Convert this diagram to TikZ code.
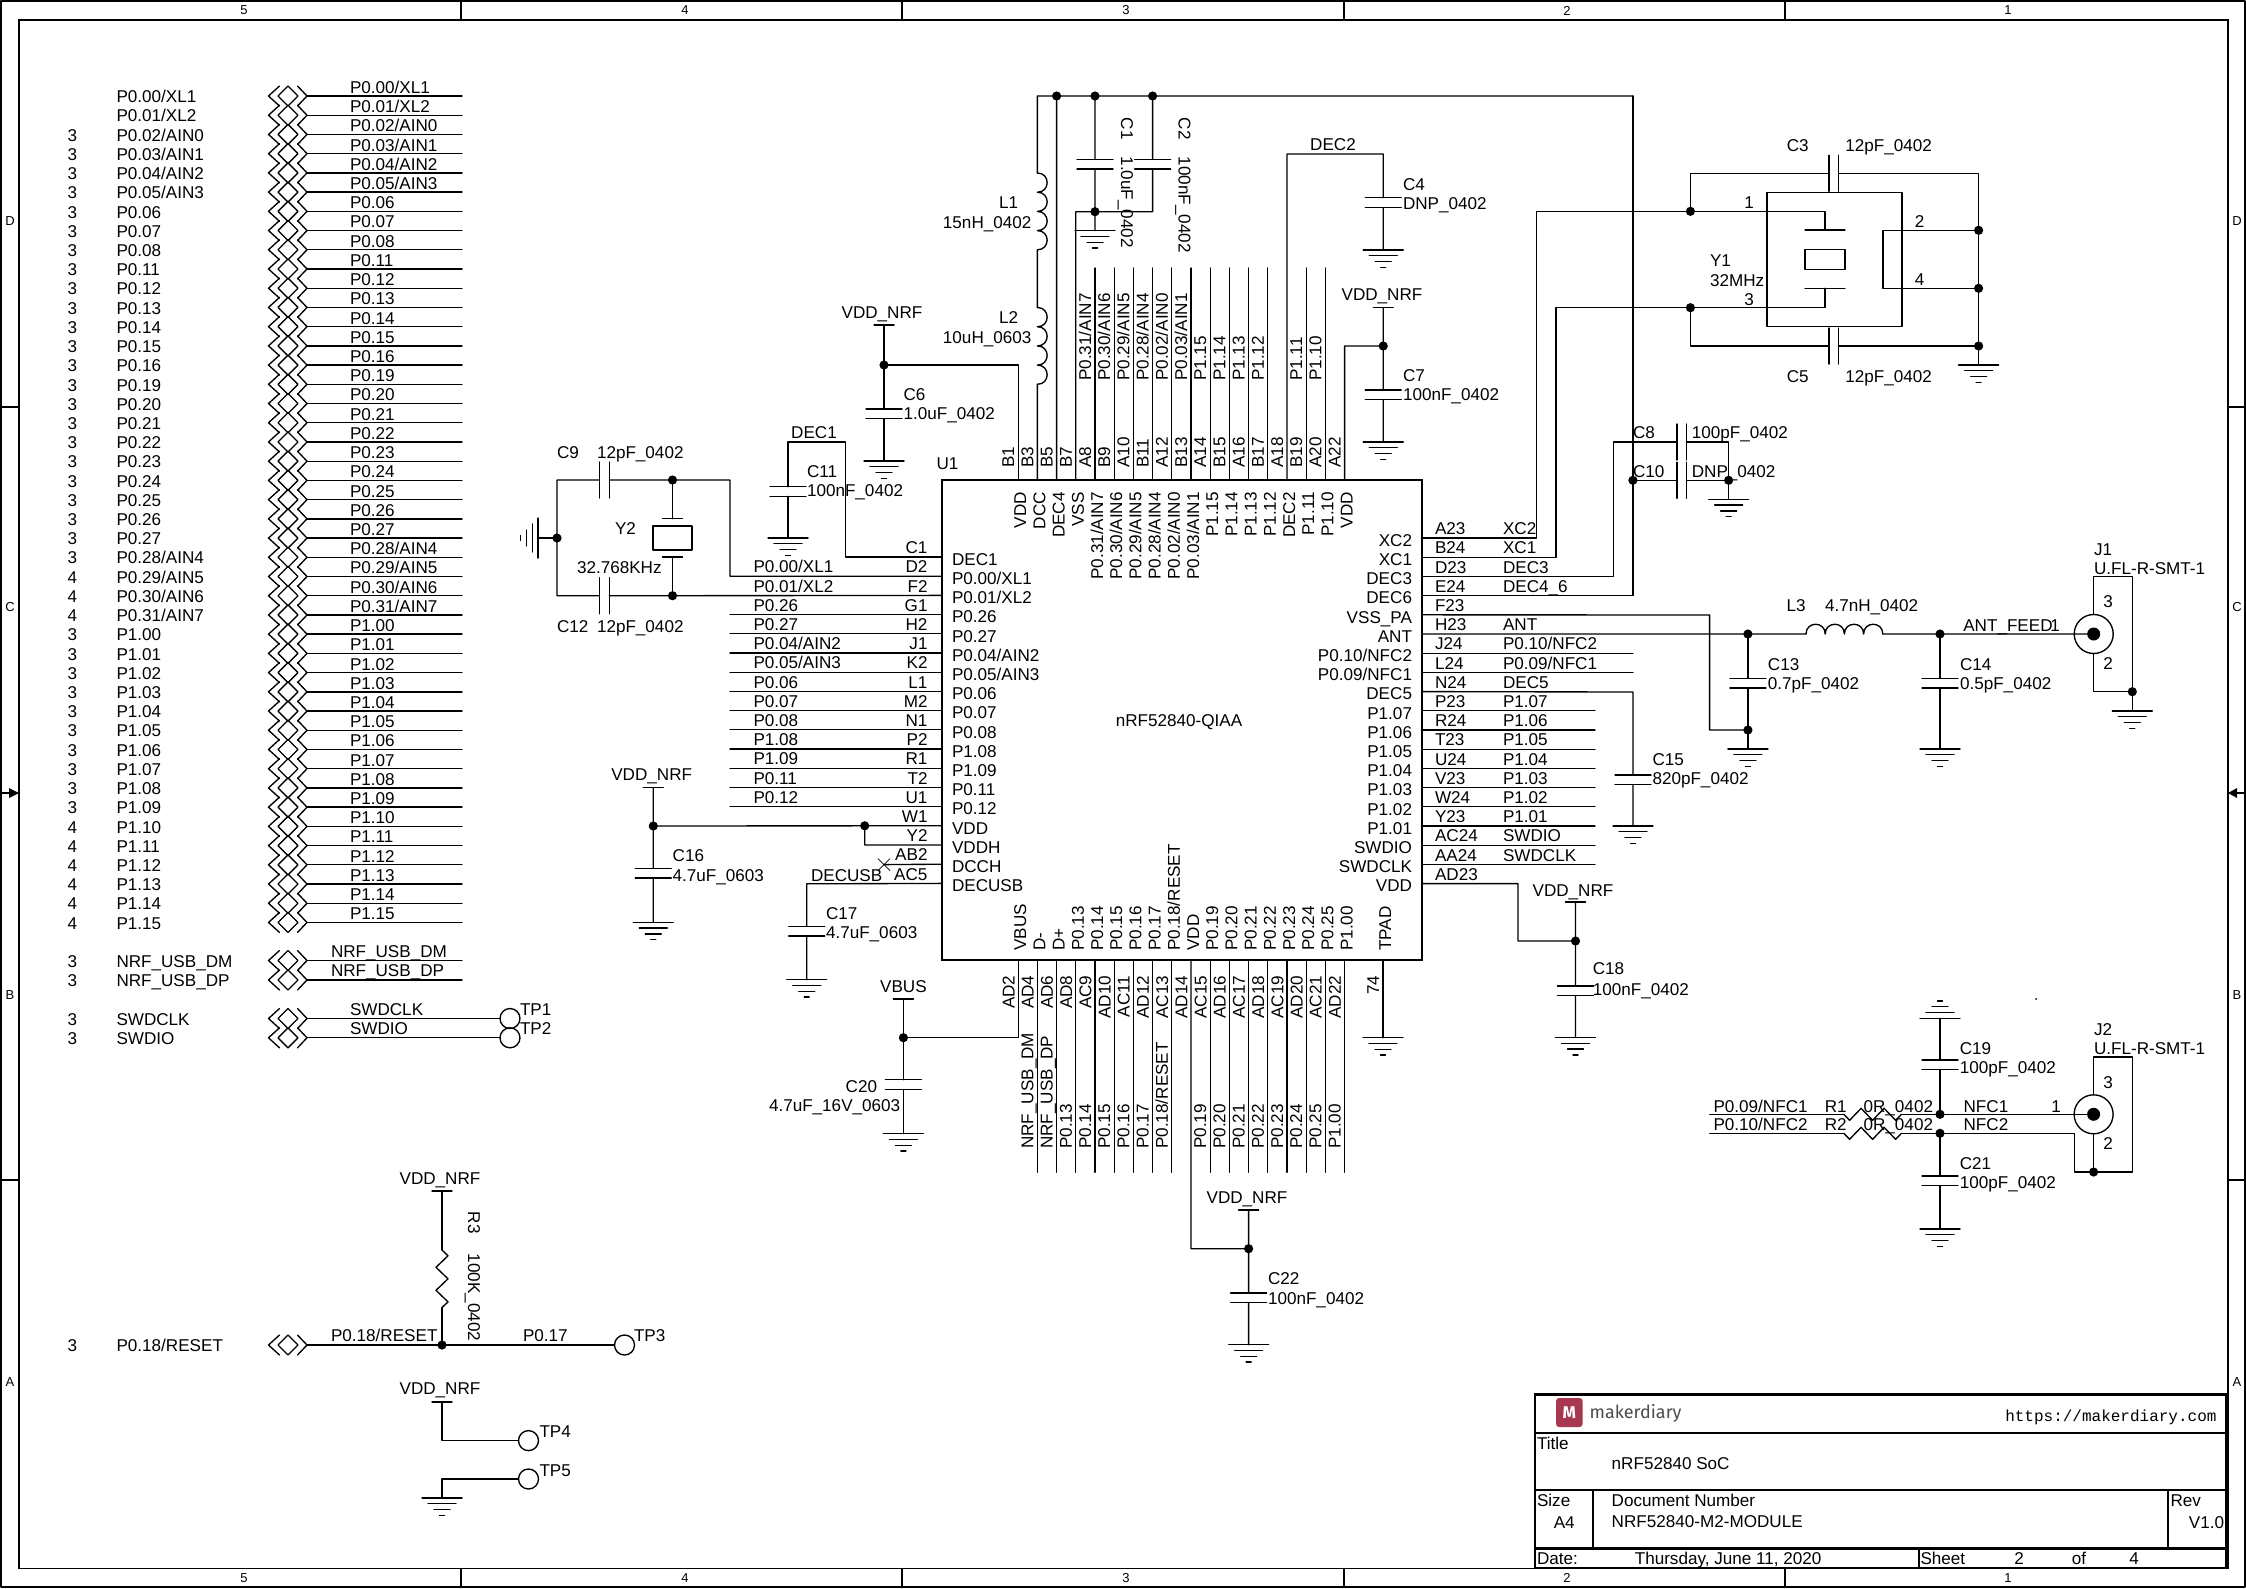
\documentclass[tikz,border=0pt]{standalone}
\usepackage{fontspec}
\setmainfont{Liberation Sans}
\newfontfamily\monof{Liberation Mono}
\newfontfamily\logof{Fira Sans}
\newcounter{lblno}
\tikzset{
  wire/.style={line width=1.35pt,line cap=round,line join=round},
  thickbox/.style={line width=2.4pt},
  lbl/.style={inner sep=0pt,outer sep=0pt,text height=12pt,text depth=0pt,yshift=-0.7pt,font=\fontsize{17.1}{17}\selectfont},
  small/.style={inner sep=0pt,outer sep=0pt,font=\fontsize{13}{13}\selectfont},
  tp/.style={circle,draw,line width=1.35pt,minimum size=20pt,inner sep=0pt,outer sep=0pt},
  coax/.style={circle,draw,line width=1.35pt,minimum size=39pt,inner sep=0pt,outer sep=0pt},
  dot/.style={fill=black}
}
\newcommand\tl[3]{\stepcounter{lblno}\node[lbl,anchor=west] (t\arabic{lblno}) at (#1,#2) {#3};}
\newcommand\tc[3]{\stepcounter{lblno}\node[lbl,anchor=center] (t\arabic{lblno}) at (#1,#2) {#3};}
\newcommand\tr[3]{\stepcounter{lblno}\node[lbl,anchor=east] (t\arabic{lblno}) at (#1,#2) {#3};}
\newcommand\rotw[3]{\stepcounter{lblno}\node[lbl,rotate=90,anchor=west] (t\arabic{lblno}) at (#1,#2) {#3};}
\newcommand\rote[3]{\stepcounter{lblno}\node[lbl,rotate=90,anchor=east] (t\arabic{lblno}) at (#1,#2) {#3};}
\newcommand\rotd[3]{\stepcounter{lblno}\node[lbl,rotate=-90,anchor=west] (t\arabic{lblno}) at (#1,#2) {#3};}
\newcommand\bord[3]{\stepcounter{lblno}\node[small] (t\arabic{lblno}) at (#1,#2) {#3};}
\newcommand\gnd[3]{\coordinate (#1) at (#2,#3);
  \draw[wire] (#2-20,#3) -- (#2+20,#3) (#2-14,#3+5.8) -- (#2+14,#3+5.8) (#2-8,#3+11.6) -- (#2+8,#3+11.6) (#2-2.5,#3+17.4) -- (#2+2.5,#3+17.4);}
\newcommand\gndup[3]{\coordinate (#1) at (#2,#3);
  \draw[wire] (#2-20,#3) -- (#2+20,#3) (#2-14,#3-5.8) -- (#2+14,#3-5.8) (#2-8,#3-11.6) -- (#2+8,#3-11.6) (#2-2.5,#3-17.4) -- (#2+2.5,#3-17.4);}
\newcommand\gndleft[3]{\coordinate (#1) at (#2,#3);
  \draw[wire] (#2,#3-20) -- (#2,#3+20) (#2-5.8,#3-14) -- (#2-5.8,#3+14) (#2-11.6,#3-8) -- (#2-11.6,#3+8) (#2-17.4,#3-2.5) -- (#2-17.4,#3+2.5);}
\newcommand\pwr[3]{\coordinate (#1) at (#2,#3); \draw[wire] (#2-10,#3) -- (#2+10,#3);}
\newcommand\jn[3]{\coordinate (#1) at (#2,#3); \fill[dot] (#2,#3) circle[radius=4.6];}
\newcommand\capv[3]{\coordinate (#1) at (#2,#3); \coordinate (#1b) at (#2,#3+9.7);
  \draw[wire] (#2-18,#3) -- (#2+18,#3) (#2-18,#3+9.7) -- (#2+18,#3+9.7);}
\newcommand\caph[3]{\coordinate (#1) at (#2,#3); \coordinate (#1b) at (#2+9.7,#3);
  \draw[wire] (#2,#3-18) -- (#2,#3+18) (#2+9.7,#3-18) -- (#2+9.7,#3+18);}
\newcommand\indv[3]{\coordinate (#1) at (#2,#3); \coordinate (#1b) at (#2,#3+76.8);
  \draw[wire] (#2,#3) .. controls (#2+13,#3) and (#2+13,#3+19.2) .. (#2,#3+19.2)
   .. controls (#2+13,#3+19.2) and (#2+13,#3+38.4) .. (#2,#3+38.4)
   .. controls (#2+13,#3+38.4) and (#2+13,#3+57.6) .. (#2,#3+57.6)
   .. controls (#2+13,#3+57.6) and (#2+13,#3+76.8) .. (#2,#3+76.8);}
\newcommand\indh[3]{\coordinate (#1) at (#2,#3); \coordinate (#1b) at (#2+76.8,#3);
  \draw[wire] (#2,#3) .. controls (#2,#3-13) and (#2+19.2,#3-13) .. (#2+19.2,#3)
   .. controls (#2+19.2,#3-13) and (#2+38.4,#3-13) .. (#2+38.4,#3)
   .. controls (#2+38.4,#3-13) and (#2+57.6,#3-13) .. (#2+57.6,#3)
   .. controls (#2+57.6,#3-13) and (#2+76.8,#3-13) .. (#2+76.8,#3);}
\newcommand\resh[3]{\coordinate (#1) at (#2,#3); \coordinate (#1b) at (#2+57.6,#3);
  \draw[wire] (#2,#3) -- (#2+5.76,#3+6) -- (#2+17.3,#3-6) -- (#2+28.8,#3+6) -- (#2+40.3,#3-6) -- (#2+51.84,#3+6) -- (#2+57.6,#3);}
\newcommand\resv[3]{\coordinate (#1) at (#2,#3); \coordinate (#1b) at (#2,#3+57.6);
  \draw[wire] (#2,#3) -- (#2+6,#3+5.76) -- (#2-6,#3+17.3) -- (#2+6,#3+28.8) -- (#2-6,#3+40.3) -- (#2+6,#3+51.84) -- (#2,#3+57.6);}
\newcommand\offp[2]{\coordinate (#1) at (307,#2);
  \draw[wire] (279.5,#2-10) -- (268.5,#2) -- (279.5,#2+10)
     (297.5,#2-10) -- (307,#2) -- (297.5,#2+10)
     (288,#2-10) -- (298,#2) -- (288,#2+10) -- (278,#2) -- cycle;}
\begin{document}
\begin{tikzpicture}[x=1pt,y=-1pt]
\useasboundingbox (0,0) rectangle (2246,1588);
\fill[white] (0,0) rectangle (2246,1588);
% ---- sheet frame
\draw[wire] (1,1) rectangle (2245,1587);
\draw[line width=1.6pt] (19,20) rectangle (2228,1568.5);
\foreach \xx in {461,902,1344,1785}{\draw[line width=1.6pt] (\xx,1) -- (\xx,20) (\xx,1568.5) -- (\xx,1587);}
\foreach \yy in {407,1180}{\draw[wire] (1,\yy) -- (19,\yy) (2228,\yy) -- (2245,\yy);}
\draw[wire] (1,793) -- (10,793) (2236,793) -- (2245,793);
\fill (19,793) -- (9,788) -- (9,798) -- cycle;
\fill (2228,793) -- (2237,788) -- (2237,798) -- cycle;
\foreach \xx/\ss in {244/5,685/4,1126/3,1567/2,2008/1}{\bord{\xx}{10.5}{\ss}\bord{\xx}{1578}{\ss}}
\foreach \yy/\ss in {221/D,607/C,995/B,1382/A}{\bord{10}{\yy}{\ss}\bord{2237}{\yy}{\ss}}
% ---- left signal list
\foreach \nm [count=\i from 0] in {P0.00/XL1,P0.01/XL2,P0.02/AIN0,P0.03/AIN1,P0.04/AIN2,P0.05/AIN3,P0.06,P0.07,P0.08,P0.11,P0.12,P0.13,P0.14,P0.15,P0.16,P0.19,P0.20,P0.21,P0.22,P0.23,P0.24,P0.25,P0.26,P0.27,P0.28/AIN4,P0.29/AIN5,P0.30/AIN6,P0.31/AIN7,P1.00,P1.01,P1.02,P1.03,P1.04,P1.05,P1.06,P1.07,P1.08,P1.09,P1.10,P1.11,P1.12,P1.13,P1.14,P1.15}{
  \pgfmathsetmacro\yy{96+\i*19.22}
  \pgfmathsetmacro\yl{\yy-9.3}
  \tl{116.5}{\yy}{\nm}
  \tl{350}{\yl}{\nm}
  \offp{oc\i}{\yy}
  \coordinate (oe\i) at (462,\yy);
  \draw[wire] (oc\i) -- (oe\i);
}
\foreach \ss [count=\i from 2] in {3,3,3,3,3,3,3,3,3,3,3,3,3,3,3,3,3,3,3,3,3,3,3,4,4,4,3,3,3,3,3,3,3,3,3,3,4,4,4,4,4,4}{
  \pgfmathsetmacro\yy{96+\i*19.22}
  \tc{72.5}{\yy}{\ss}
}
% ---- USB, SWD
\offp{ocDM}{960.5} \offp{ocDP}{980} \offp{ocCK}{1018.5} \offp{ocIO}{1037.8} \offp{ocRS}{1345}
\tc{72.5}{960.5}{3} \tl{116.5}{960.5}{NRF\_USB\_DM}
\tc{72.5}{980}{3} \tl{116.5}{980}{NRF\_USB\_DP}
\tc{72.5}{1018.5}{3} \tl{116.5}{1018.5}{SWDCLK}
\tc{72.5}{1037.8}{3} \tl{116.5}{1037.8}{SWDIO}
\tc{72.5}{1345}{3} \tl{116.5}{1345}{P0.18/RESET}
\coordinate (oeDM) at (462,960.5); \coordinate (oeDP) at (462,980);
\draw[wire] (ocDM) -- (oeDM) (ocDP) -- (oeDP);
\tl{331}{951}{NRF\_USB\_DM} \tl{331}{970}{NRF\_USB\_DP}
\node[tp] (TP1) at (510,1018.5) {}; \node[tp] (TP2) at (510,1037.8) {};
\draw[wire] (ocCK) -- (TP1) (ocIO) -- (TP2);
\tl{350}{1009}{SWDCLK} \tl{350}{1028}{SWDIO}
\tl{520}{1009}{TP1} \tl{520}{1028}{TP2}
% ---- reset and test points
\jn{jRS}{442}{1345}
\pwr{pR3}{442}{1191} \tc{440}{1178}{VDD\_NRF}
\resv{R3}{442}{1250}
\node[tp] (TP3) at (624.5,1345) {};
\draw[wire] (pR3) -- (R3) (R3b) -- (jRS) (ocRS) -- (jRS) -- (TP3);
\rotd{474}{1211}{R3} \rotd{474}{1253}{100K\_0402}
\tl{331}{1335}{P0.18/RESET} \tl{523}{1335}{P0.17} \tl{634}{1335}{TP3}
\pwr{pTP4}{442}{1402} \tc{440}{1388}{VDD\_NRF}
\node[tp] (TP4) at (528.5,1440.6) {};
\draw[wire] (pTP4) |- (TP4);
\tl{539.5}{1431}{TP4}
\node[tp] (TP5) at (528.5,1479) {};
\gnd{gTP5}{442}{1498}
\draw[wire] (gTP5) |- (TP5);
\tl{539.5}{1469.5}{TP5}
% ---- U1
\node[draw,line width=1.35pt,minimum width=480pt,minimum height=480pt,inner sep=0pt,outer sep=0pt,anchor=north west] (U1) at (942,480) {};
\tc{1179}{720}{nRF52840-QIAA}
\tl{936.5}{463}{U1}
% left pins
\foreach \pn/\nm [count=\i from 0] in {C1/DEC1,D2/{P0.00/XL1},F2/{P0.01/XL2},G1/P0.26,H2/P0.27,J1/{P0.04/AIN2},K2/{P0.05/AIN3},L1/P0.06,M2/P0.07,N1/P0.08,P2/P1.08,R1/P1.09,T2/P0.11,U1/P0.12,W1/VDD,Y2/VDDH,AB2/DCCH,AC5/DECUSB}{
  \pgfmathsetmacro\yy{557+\i*19.2}
  \pgfmathsetmacro\yl{\yy-10}
  \pgfmathsetmacro\yn{\yy+1.5}
  \coordinate (pl\i) at (942,\yy);
  \tr{927.5}{\yl}{\pn}
  \tl{952}{\yn}{\nm}
}
\foreach \nm [count=\i from 1] in {P0.00/XL1,P0.01/XL2,P0.26,P0.27,P0.04/AIN2,P0.05/AIN3,P0.06,P0.07,P0.08,P1.08,P1.09,P0.11,P0.12}{
  \pgfmathsetmacro\yl{557+\i*19.2-10}
  \tl{753.5}{\yl}{\nm}
}
\foreach \i in {3,...,13}{
  \pgfmathsetmacro\yy{557+\i*19.2}
  \coordinate (ple\i) at (730,\yy);
  \draw[wire] (pl\i) -- (ple\i);
}
% right pins
\foreach \pn/\nm [count=\i from 0] in {A23/XC2,B24/XC1,D23/DEC3,E24/DEC6,F23/VSS\_PA,H23/ANT,J24/{P0.10/NFC2},L24/{P0.09/NFC1},N24/DEC5,P23/P1.07,R24/P1.06,T23/P1.05,U24/P1.04,V23/P1.03,W24/P1.02,Y23/P1.01,AC24/SWDIO,AA24/SWDCLK,AD23/VDD}{
  \pgfmathsetmacro\yy{538+\i*19.2}
  \pgfmathsetmacro\yl{\yy-10}
  \pgfmathsetmacro\yn{\yy+1.5}
  \coordinate (pr\i) at (1422,\yy);
  \tl{1435}{\yl}{\pn}
  \tr{1412}{\yn}{\nm}
}
\foreach \i/\nm in {0/XC2,1/XC1,2/DEC3,3/DEC4\_6,5/ANT,6/{P0.10/NFC2},7/{P0.09/NFC1},8/DEC5,9/P1.07,10/P1.06,11/P1.05,12/P1.04,13/P1.03,14/P1.02,15/P1.01,16/SWDIO,17/SWDCLK}{
  \pgfmathsetmacro\yl{538+\i*19.2-10}
  \tl{1503}{\yl}{\nm}
}
\foreach \i/\xe in {6/1633,7/1633,9/1595,10/1595,11/1595,12/1595,13/1595,14/1595,15/1595,16/1595,17/1595}{
  \pgfmathsetmacro\yy{538+\i*19.2}
  \coordinate (pre\i) at (\xe,\yy);
  \draw[wire] (pr\i) -- (pre\i);
}
% top pins
\foreach \pn/\nm [count=\i from 0] in {B1/VDD,B3/DCC,B5/DEC4,B7/VSS,A8/{P0.31/AIN7},B9/{P0.30/AIN6},A10/{P0.29/AIN5},B11/{P0.28/AIN4},A12/{P0.02/AIN0},B13/{P0.03/AIN1},A14/P1.15,B15/P1.14,A16/P1.13,B17/P1.12,A18/DEC2,B19/P1.11,A20/P1.10,A22/VDD}{
  \pgfmathsetmacro\xx{1018.2+\i*19.2}
  \pgfmathsetmacro\xl{\xx-10}
  \pgfmathsetmacro\xn{\xx+2}
  \coordinate (pt\i) at (\xx,480);
  \rotw{\xl}{467}{\pn}
  \rote{\xn}{491.5}{\nm}
}
\foreach \i/\nm in {4/{P0.31/AIN7},5/{P0.30/AIN6},6/{P0.29/AIN5},7/{P0.28/AIN4},8/{P0.02/AIN0},9/{P0.03/AIN1},10/P1.15,11/P1.14,12/P1.13,13/P1.12,15/P1.11,16/P1.10}{
  \pgfmathsetmacro\xx{1018.2+\i*19.2}
  \pgfmathsetmacro\xl{\xx-10}
  \coordinate (pte\i) at (\xx,268);
  \draw[wire] (pt\i) -- (pte\i);
  \rotw{\xl}{380}{\nm}
}
% bottom pins
\foreach \pn/\nm [count=\i from 0] in {AD2/VBUS,AD4/D-,AD6/D+,AD8/P0.13,AC9/P0.14,AD10/P0.15,AC11/P0.16,AD12/P0.17,AC13/{P0.18/RESET},AD14/VDD,AC15/P0.19,AD16/P0.20,AC17/P0.21,AD18/P0.22,AC19/P0.23,AD20/P0.24,AC21/P0.25,AD22/P1.00}{
  \pgfmathsetmacro\xx{1018.2+\i*19.2}
  \pgfmathsetmacro\xl{\xx-9.7}
  \pgfmathsetmacro\xn{\xx+2}
  \coordinate (pb\i) at (\xx,960);
  \rote{\xl}{975}{\pn}
  \rotw{\xn}{950}{\nm}
}
\coordinate (pb19) at (1383,960);
\rote{1373}{975}{74} \rotw{1385}{950}{TPAD}
\foreach \i/\nm in {1/NRF\_USB\_DM,2/NRF\_USB\_DP,3/P0.13,4/P0.14,5/P0.15,6/P0.16,7/P0.17,8/{P0.18/RESET},10/P0.19,11/P0.20,12/P0.21,13/P0.22,14/P0.23,15/P0.24,16/P0.25,17/P1.00}{
  \pgfmathsetmacro\xx{1018.2+\i*19.2}
  \pgfmathsetmacro\xl{\xx-10}
  \coordinate (pbe\i) at (\xx,1172.3);
  \draw[wire] (pb\i) -- (pbe\i);
  \rotw{\xl}{1148}{\nm}
}
% ---- Y2 group
\jn{jY2a}{672.5}{480} \jn{jY2b}{672.5}{595.7} \jn{jY2g}{557}{538}
\caph{C9}{599.5}{480} \caph{C12}{599.5}{595.7}
\coordinate (cXL1) at (730,480); \coordinate (cTL) at (557,480); \coordinate (cBL) at (557,595.7);
\coordinate (y2t) at (672.5,518.7); \coordinate (y2b) at (672.5,557);
\gndleft{gY2}{538}{538}
\draw[wire] (662.5,518.7) -- (682.5,518.7) (662.5,557) -- (682.5,557);
\draw[wire] (653,526) rectangle (692,550);
\draw[wire] (pl1) -| (cXL1) -- (jY2a) -- (C9b) (C9) -- (cTL) -- (cBL) -- (C12) (C12b) -- (jY2b) -- (pl2);
\draw[wire] (jY2a) -- (y2t) (y2b) -- (jY2b) (jY2g) -- (gY2);
\tl{557}{452}{C9} \tl{597}{452}{12pF\_0402}
\tl{557}{625.7}{C12} \tl{597}{625.7}{12pF\_0402}
\tl{615}{528}{Y2} \tl{577}{567}{32.768KHz}
% ---- DEC1
\capv{C11}{788}{486.7} \gnd{gC11}{788}{538}
\coordinate (d1r) at (845.7,442); \coordinate (d1l) at (788,442);
\draw[wire] (pl0) -| (d1r) -- (d1l) -- (C11) (C11b) -- (gC11);
\tc{814}{432}{DEC1} \tl{807}{471}{C11} \tl{807}{490}{100nF\_0402}
% ---- C6, L2, L1
\pwr{pC6}{884}{325} \jn{jC6}{884}{365} \capv{C6}{884}{409} \gnd{gC6}{884}{461}
\coordinate (b1t) at (1018.2,365);
\draw[wire] (pC6) -- (jC6) -- (C6) (C6b) -- (gC6) (jC6) -- (b1t) -- (pt0);
\tc{882}{312}{VDD\_NRF} \tl{903.6}{394}{C6} \tl{903.6}{413}{1.0uF\_0402}
\indv{L1}{1037.4}{173} \indv{L2}{1037.4}{307.5}
\coordinate (rl) at (1037.4,96); \coordinate (rr) at (1632.9,96);
\jn{jB5}{1056.6}{96} \jn{jC1}{1095}{96} \jn{jC2}{1152.6}{96}
\draw[wire] (pt1) -- (L2b) (L2) -- (L1b) (L1) -- (rl) -- (jB5) -- (jC1) -- (jC2) -- (rr) (jB5) -- (pt2);
\tl{999}{202}{L1} \tr{1031.4}{221.7}{15nH\_0402} \tl{999}{317}{L2} \tr{1031.4}{336.7}{10uH\_0603}
% ---- C1, C2
\capv{C1}{1095}{159.3} \capv{C2}{1152.6}{159.3}
\jn{jVSS}{1095}{211.7} \gnd{gC1}{1095}{230.7}
\coordinate (b7t) at (1075.8,211.7); \coordinate (c2b) at (1152.6,211.7);
\draw[wire] (jC1) -- (C1) (C1b) -- (jVSS) -- (gC1) (jC2) -- (C2) (C2b) -- (c2b) -- (jVSS) -- (b7t) -- (pt3);
\rotd{1127}{117}{C1} \rotd{1127}{156}{1.0uF\_0402} \rotd{1184.6}{117}{C2} \rotd{1184.6}{156}{100nF\_0402}
% ---- DEC2, C4, C7
\coordinate (d2l) at (1287,154); \coordinate (d2r) at (1383.2,154);
\capv{C4}{1383.2}{197.7} \gnd{gC4}{1383.2}{250}
\draw[wire] (pt14) -- (d2l) -- (d2r) -- (C4) (C4b) -- (gC4);
\tc{1333}{144}{DEC2} \tl{1403}{183.3}{C4} \tl{1403}{202.3}{DNP\_0402}
\pwr{pC7}{1383.2}{307.7} \jn{jC7}{1383.2}{346} \capv{C7}{1383.2}{390} \gnd{gC7}{1383.2}{442}
\coordinate (a22t) at (1344.6,346);
\draw[wire] (pC7) -- (jC7) -- (C7) (C7b) -- (gC7) (jC7) -- (a22t) -- (pt17);
\tc{1382}{294}{VDD\_NRF} \tl{1403}{375}{C7} \tl{1403}{394}{100nF\_0402}
% ---- Y1
\draw[wire] (1767,192.3) rectangle (1902,326.7);
\draw[wire] (1805,230) -- (1845,230) (1805,288.3) -- (1845,288.3);
\draw[wire] (1805,249.7) rectangle (1845,269.3);
\jn{jY1a}{1690.4}{211.3} \jn{jY1b}{1690.4}{307.7} \jn{jY2r}{1978.6}{230.3} \jn{jY4r}{1978.6}{288.3} \jn{jG}{1978.6}{346}
\caph{C3}{1829}{173.3} \caph{C5}{1829}{346} \gnd{gY1}{1978.6}{365}
\coordinate (xc2) at (1536.8,211.3); \coordinate (xc1) at (1556,307.7);
\coordinate (y1a) at (1825,211.3); \coordinate (y1at) at (1825,230);
\coordinate (y1b) at (1825,307.7); \coordinate (y1bt) at (1825,288.3);
\coordinate (c3l) at (1690.4,173.3); \coordinate (c3r) at (1978.6,173.3); \coordinate (c5l) at (1690.4,346);
\coordinate (y2i) at (1882.9,230.3); \coordinate (y4i) at (1882.9,288.3);
\draw[wire] (pr0) -- (pr0 -| xc2) -- (xc2) -- (jY1a) -- (y1a) -- (y1at);
\draw[wire] (pr1) -- (pr1 -| xc1) -- (xc1) -- (jY1b) -- (y1b) -- (y1bt);
\draw[wire] (jY1a) -- (c3l) -- (C3) (C3b) -- (c3r) -- (jY2r) -- (jY4r) -- (jG) -- (gY1);
\draw[wire] (jY1b) -- (c5l) -- (C5) (C5b) -- (jG);
\draw[wire] (jY2r) -- (y2i) -- (y4i) -- (jY4r);
\tc{1749}{202}{1} \tc{1749}{298.3}{3} \tc{1919.6}{221}{2} \tc{1919.6}{278.3}{4}
\tl{1786.8}{144.3}{C3} \tl{1845.4}{144.3}{12pF\_0402}
\tl{1786.8}{375.7}{C5} \tl{1845.4}{375.7}{12pF\_0402}
\tl{1710}{260}{Y1} \tl{1710}{279.3}{32MHz}
% ---- C8, C10
\caph{C8}{1677}{442} \caph{C10}{1677}{480.3}
\jn{jC10}{1632.9}{480.3} \jn{jC8}{1728.6}{480.3} \gnd{gC8}{1728.6}{499.3}
\coordinate (c8l) at (1613.6,442); \coordinate (c8r) at (1728.6,442);
\draw[wire] (pr2) -- (pr2 -| c8l) -- (c8l) -- (C8) (C8b) -- (c8r) -- (jC8) -- (gC8);
\draw[wire] (pr3) -- (pr3 -| rr) -- (rr);
\draw[wire] (jC10) -- (C10) (C10b) -- (jC8);
\tl{1633}{432}{C8} \tl{1691.8}{432}{100pF\_0402} \tl{1633}{471}{C10} \tl{1691.8}{471}{DNP\_0402}
% ---- antenna
\jn{jC13}{1747.9}{634} \jn{jC13g}{1747.9}{730} \jn{jC14}{1940}{634}
\capv{C13}{1747.9}{678.3} \capv{C14}{1940}{678.3}
\gnd{gC13}{1747.9}{749} \gnd{gC14}{1940}{749}
\indh{L3}{1806}{634}
\node[coax] (J1) at (2093.7,634) {};
\fill[dot] (2093.7,634) circle[radius=6.5];
\coordinate (vssc) at (1709.6,615);
\draw[wire] (pr4) -- (vssc) |- (jC13g);
\draw[wire] (pr5) -- (jC13) -- (L3) (L3b) -- (jC14) -- (J1.center);
\draw[wire] (jC13) -- (C13) (C13b) -- (jC13g) -- (gC13) (jC14) -- (C14) (C14b) -- (gC14);
\coordinate (j1a) at (2093.7,576.7); \coordinate (j1b) at (2132.3,576.7); \coordinate (j1c) at (2093.7,691.7);
\jn{jJ1}{2132.3}{691.7} \gnd{gJ1}{2132.3}{711}
\draw[wire] (J1.north) -- (j1a) -- (j1b) -- (jJ1) -- (j1c) -- (J1.south) (jJ1) -- (gJ1);
\tl{1767.9}{663.3}{C13} \tl{1767.9}{682.7}{0.7pF\_0402} \tl{1960}{663.3}{C14} \tl{1960}{682.7}{0.5pF\_0402}
\tl{1786.7}{605}{L3} \tl{1825}{605}{4.7nH\_0402} \tl{1963.3}{624.3}{ANT\_FEED} \tc{2055}{624.3}{1}
\tl{2094}{548.3}{J1} \tl{2094}{567.3}{U.FL-R-SMT-1} \tc{2108}{601}{3} \tc{2108}{663}{2}
% ---- C15
\coordinate (dec5c) at (1633,692); \capv{C15}{1633}{775} \gnd{gC15}{1633}{826}
\draw[wire] (pr8) -- (dec5c) -- (C15) (C15b) -- (gC15);
\tl{1652.5}{759}{C15} \tl{1652.5}{778}{820pF\_0402}
% ---- C18
\pwr{pC18}{1575.5}{902} \jn{jC18}{1575.5}{941} \capv{C18}{1575.5}{986} \gnd{gC18}{1575.5}{1037.5}
\coordinate (vddc) at (1518,883.6); \coordinate (vddd) at (1518,941);
\draw[wire] (pr18) -- (vddc) -- (vddd) -- (jC18) (pC18) -- (jC18) -- (C18) (C18b) -- (gC18);
\tc{1573}{889.3}{VDD\_NRF} \tl{1592.8}{968}{C18} \tl{1592.8}{989}{100nF\_0402}
% ---- C16, C17, left supplies
\pwr{pC16}{653.3}{787.7} \jn{jC16}{653.3}{826} \jn{jVH}{864.7}{825.8} \capv{C16}{653.3}{868.3} \gnd{gC16}{653.3}{922.3}
\coordinate (vh) at (864.7,845);
\draw[wire] (pC16) -- (jC16) -- (C16) (C16b) -- (gC16) (jC16) -- (jVH) -- (pl14) (jVH) -- (vh) -- (pl15);
\tc{651.7}{774}{VDD\_NRF} \tl{672.7}{855}{C16} \tl{672.7}{874.3}{4.7uF\_0603}
\coordinate (nc) at (884,864.6);
\draw[wire] (pl16) -- (nc);
\draw[line width=.8pt] (878,858.6) -- (890,870.6) (878,870.6) -- (890,858.6);
\coordinate (dusb) at (806.7,883.8); \capv{C17}{806.7}{926.3} \gnd{gC17}{806.7}{979.7}
\draw[wire] (pl17) -- (dusb) -- (C17) (C17b) -- (gC17);
\tl{811}{874.3}{DECUSB} \tl{826}{912.7}{C17} \tl{826}{932}{4.7uF\_0603}
% ---- VBUS, C20
\pwr{pC20}{903.4}{999} \jn{jC20}{903.4}{1037.7} \capv{C20}{903.4}{1079.7} \gnd{gC20}{903.4}{1133.7}
\coordinate (vb) at (1018.2,1037.7);
\draw[wire] (pC20) -- (jC20) -- (C20) (C20b) -- (gC20) (jC20) -- (vb) -- (pb0);
\tc{903.4}{986}{VBUS} \tl{845.7}{1085.7}{C20} \tl{769}{1105}{4.7uF\_16V\_0603}
% ---- TPAD
\gnd{gPad}{1383}{1037.7}
\draw[wire] (pb19) -- (gPad);
% ---- C22
\pwr{pC22}{1248.6}{1210} \jn{jC22}{1248.6}{1248.7} \capv{C22}{1248.6}{1293} \gnd{gC22}{1248.6}{1344.7}
\coordinate (ad14) at (1191,1248.7);
\draw[wire] (pb9) -- (ad14) -- (jC22) (pC22) -- (jC22) -- (C22) (C22b) -- (gC22);
\tc{1247}{1196.7}{VDD\_NRF} \tl{1268}{1278}{C22} \tl{1268}{1298}{100nF\_0402}
% ---- J2
\gndup{gC19}{1940}{1018.3} \capv{C19}{1940}{1060}
\jn{jN1}{1940}{1114.3} \jn{jN2}{1940}{1133.3}
\capv{C21}{1940}{1176} \gnd{gC21}{1940}{1229}
\resh{R1}{1843.8}{1114.3} \resh{R2}{1843.8}{1133.3}
\coordinate (nfa) at (1709.7,1114.3); \coordinate (nfb) at (1709.7,1133.3);
\node[coax] (J2) at (2093.6,1114.3) {};
\fill[dot] (2093.6,1114.3) circle[radius=6.5];
\jn{jJ2}{2093.6}{1172}
\coordinate (j2a) at (2074.5,1133.3); \coordinate (j2b) at (2074.5,1172); \coordinate (j2c) at (2132.7,1172); \coordinate (j2d) at (2132.7,1057); \coordinate (j2e) at (2093.6,1057);
\draw[wire] (gC19) -- (C19) (C19b) -- (jN1) (jN2) -- (C21) (C21b) -- (gC21);
\draw[wire] (nfa) -- (R1) (R1b) -- (jN1) -- (J2.center);
\draw[wire] (nfb) -- (R2) (R2b) -- (jN2) -- (j2a) -- (j2b) -- (jJ2) -- (j2c) -- (j2d) -- (j2e) -- (J2.north) (J2.south) -- (jJ2);
\fill (2036,999) circle[radius=1];
\tl{1713.5}{1105.3}{P0.09/NFC1} \tl{1824.8}{1105.3}{R1} \tl{1863.6}{1105.3}{0R\_0402} \tl{1963.6}{1105.3}{NFC1} \tc{2056}{1105.3}{1}
\tl{1713.5}{1124}{P0.10/NFC2} \tl{1824.8}{1124}{R2} \tl{1863.6}{1124}{0R\_0402} \tl{1963.6}{1124}{NFC2}
\tl{1959.8}{1047.3}{C19} \tl{1959.8}{1066.7}{100pF\_0402} \tl{1959.8}{1162.7}{C21} \tl{1959.8}{1182}{100pF\_0402}
\tl{2094}{1028.3}{J2} \tl{2094}{1047.7}{U.FL-R-SMT-1} \tc{2108}{1081.7}{3} \tc{2108}{1143}{2}
% ---- title block
\fill[white] (1534.8,1394.3) rectangle (2226,1567.7);
\draw[thickbox] (1534.8,1394.3) rectangle (2226,1567.7);
\draw[thickbox] (1534.8,1432.7) -- (2226,1432.7) (1534.8,1490) -- (2226,1490) (1534.8,1548.3) -- (2226,1548.3);
\draw[thickbox] (1592.7,1490) -- (1592.7,1548.3) (2168,1490) -- (2168,1548.3) (1919,1548.3) -- (1919,1567.7);
\node[fill={rgb,255:red,168;green,56;blue,80},rounded corners=3pt,minimum width=26.5pt,minimum height=29pt,inner sep=0pt,text=white,font=\logof\bfseries\fontsize{17}{17}\selectfont] (logo) at (1569.3,1412.5) {M};
\node[inner sep=0pt,anchor=west,text=black!70,font=\logof\fontsize{18}{18}\selectfont] (logotext) at (1589.4,1413) {makerdiary};
\node[inner sep=0pt,anchor=east,font=\monof\fontsize{16}{16}\selectfont] (url) at (2216.7,1417) {https://makerdiary.com};
\tl{1537}{1443}{Title} \tl{1611.7}{1463}{nRF52840 SoC}
\tl{1537}{1500}{Size} \tl{1553.8}{1521.7}{A4}
\tl{1611.7}{1500}{Document Number} \tl{1611.7}{1520.7}{NRF52840-M2-MODULE}
\tl{2170.5}{1500}{Rev} \tr{2224}{1521.7}{V1.0}
\tl{1537}{1558}{Date:} \tl{1634.8}{1558}{Thursday, June 11, 2020}
\tl{1920.5}{1558}{Sheet} \tc{2019}{1558}{2} \tc{2079}{1558}{of} \tc{2134}{1558}{4}
\end{tikzpicture}
\end{document}
